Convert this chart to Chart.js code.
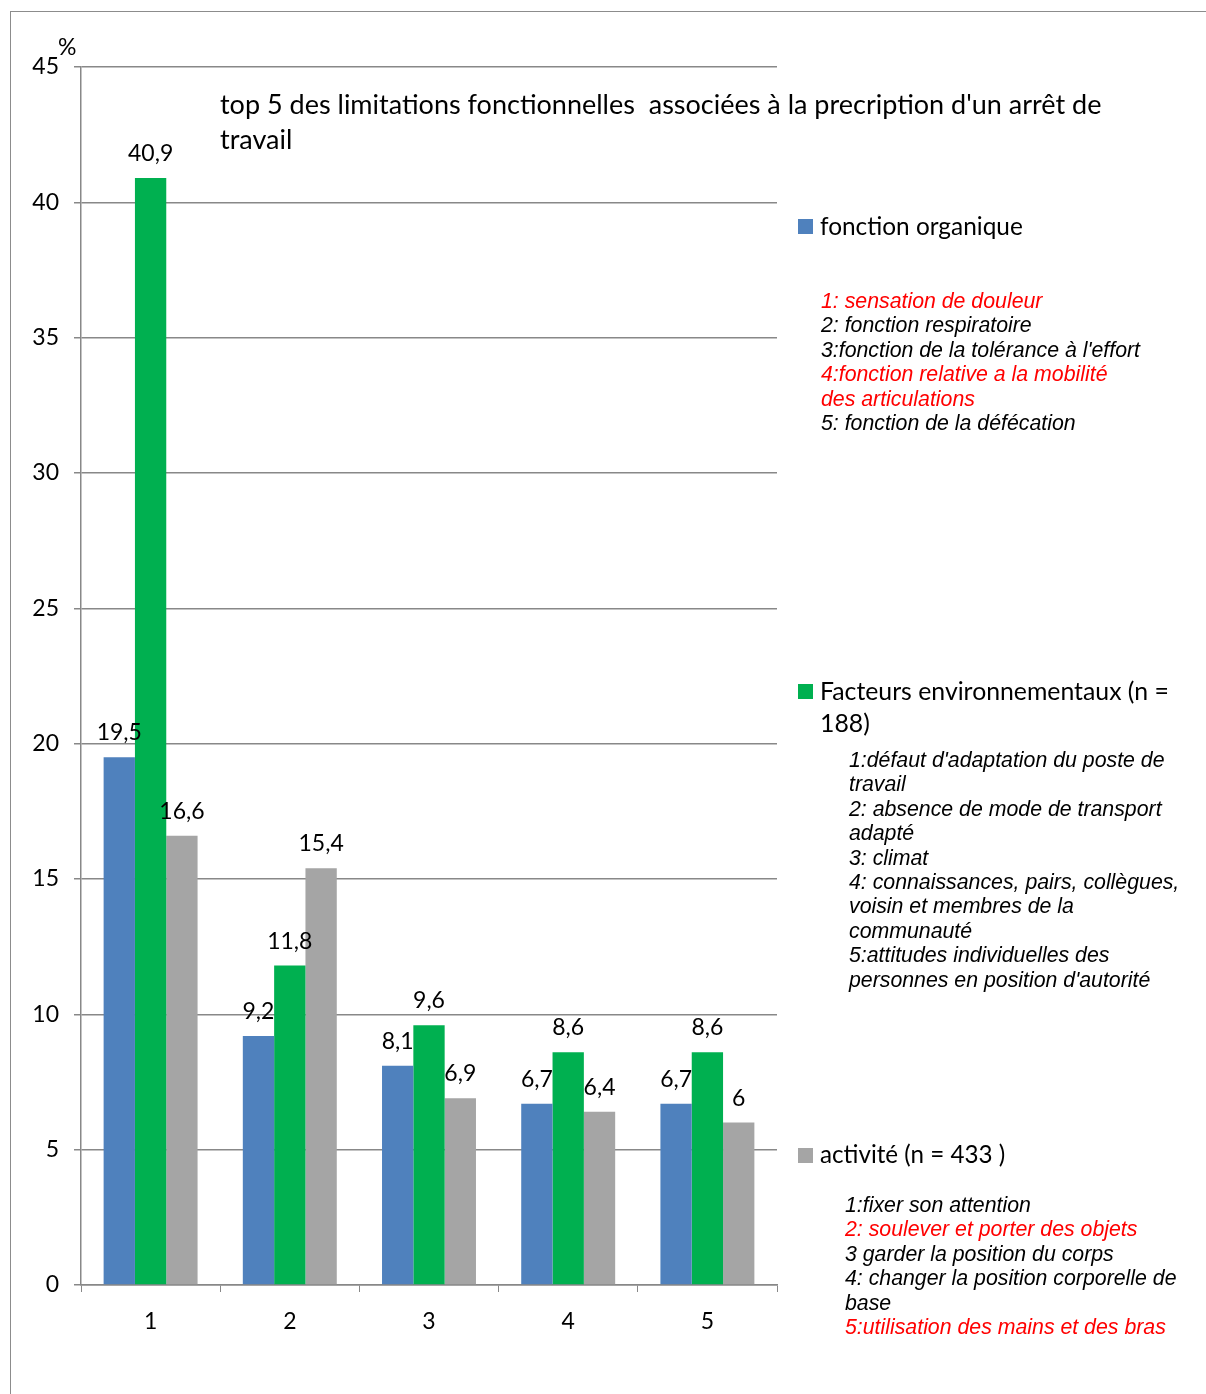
<!DOCTYPE html>
<html>
<head>
<meta charset="utf-8">
<script src="https://cdn.jsdelivr.net/npm/chart.js@4.4.0/dist/chart.umd.min.js"></script>
<style>
  body { margin: 0; background: #fff; }
  #wrap { position: relative; width: 1206px; height: 1394px; overflow: hidden; }
  #frame { position: absolute; left: 10px; top: 11px; right: -2px; bottom: -2px;
           border-top: 1.5px solid #8c8c8c; border-left: 1.5px solid #8c8c8c; }
  canvas { position: absolute; left: 0; top: 0; }
  .txt { position: absolute; white-space: nowrap; color: #000; }
  .cal { font-family: Lato, "Open Sans", sans-serif; }
  .note { font-family: "Liberation Sans", Arial, sans-serif; font-style: italic; font-size: 21.3px; line-height: 24.4px; }
  .red { color: #ff0000; }
  .sq { position: absolute; width: 15px; height: 15px; }
</style>
</head>
<body>
<div id="wrap">
  <canvas id="chart" width="1206" height="1394"></canvas>
  <div id="frame"></div>

  <div class="txt cal" style="left:58px; top:32px; font-size:23px;">%</div>
  <div class="txt cal" style="left:220px; top:86px; font-size:27px; line-height:35px;">top 5 des limitations fonctionnelles &nbsp;associées à la precription d'un arrêt de<br>travail</div>

  <div class="sq" style="left:798px; top:219px; background:#4f81bd;"></div>
  <div class="txt cal" style="left:820px; top:211px; font-size:24.4px;">fonction organique</div>
  <div class="txt note" style="left:821px; top:289px;">
    <span class="red">1: sensation de douleur</span><br>
    2: fonction respiratoire<br>
    3:fonction de la tolérance à l'effort<br>
    <span class="red">4:fonction relative a la mobilité<br>des articulations</span><br>
    5: fonction de la défécation
  </div>

  <div class="sq" style="left:798px; top:684px; background:#00b050;"></div>
  <div class="txt cal" style="left:820px; top:675px; font-size:24.8px; line-height:32px;">Facteurs environnementaux (n =<br>188)</div>
  <div class="txt note" style="left:849px; top:748px;">
    1:défaut d'adaptation du poste de<br>
    travail<br>
    2: absence de mode de transport<br>
    adapté<br>
    3: climat<br>
    4: connaissances, pairs, collègues,<br>
    voisin et membres de la<br>
    communauté<br>
    5:attitudes individuelles des<br>
    personnes en position d'autorité
  </div>

  <div class="sq" style="left:798px; top:1148px; background:#a5a5a5;"></div>
  <div class="txt cal" style="left:820px; top:1139px; font-size:24.2px;">activité (n = 433 )</div>
  <div class="txt note" style="left:845px; top:1193px;">
    1:fixer son attention<br>
    <span class="red">2: soulever et porter des objets</span><br>
    3 garder la position du corps<br>
    4: changer la position corporelle de<br>
    base<br>
    <span class="red">5:utilisation des mains et des bras</span>
  </div>
</div>

<script>
// categories and series
var categories = ["1", "2", "3", "4", "5"];
var organique = [19.5, 9.2, 8.1, 6.7, 6.7];
var environnement = [40.9, 11.8, 9.6, 8.6, 8.6];
var activite = [16.6, 15.4, 6.9, 6.4, 6];
var yTicks = [0, 5, 10, 15, 20, 25, 30, 35, 40, 45];

var gridColor = "#888888";

// value labels above bars, french decimal comma
var valueLabels = {
    id: "valueLabels",
    afterDatasetsDraw: function(chart) {
        var ctx = chart.ctx;
        ctx.save();
        ctx.font = "23px Lato";
        ctx.fillStyle = "#000";
        ctx.textAlign = "center";
        ctx.textBaseline = "alphabetic";
        chart.data.datasets.forEach(function(ds, i) {
            chart.getDatasetMeta(i).data.forEach(function(bar, j) {
                var txt = String(ds.data[j]).replace(".", ",");
                ctx.fillText(txt, bar.x, bar.y - 17);
            });
        });
        ctx.restore();
    }
};

var chartData = {
    labels: categories,
    datasets: [
        { label: "fonction organique", data: organique, backgroundColor: "#4f81bd" },
        { label: "Facteurs environnementaux (n = 188)", data: environnement, backgroundColor: "#00b050" },
        { label: "activité (n = 433 )", data: activite, backgroundColor: "#a5a5a5" }
    ]
};

var chartOptions = {
    responsive: false,
    animation: false,
    layout: { padding: { left: 1, right: 429, top: 67, bottom: 0 } },
    plugins: { legend: { display: false }, tooltip: { enabled: false } },
    datasets: { bar: { categoryPercentage: 0.675, barPercentage: 1 } },
    scales: {
        x: {
            grid: { drawOnChartArea: false, drawTicks: true, tickLength: 7, color: gridColor },
            border: { display: true, color: gridColor, width: 1.5 },
            ticks: { color: "#000", font: { family: "Lato", size: 23 }, padding: 16 },
            afterFit: function(s) { s.height = 109; }
        },
        y: {
            min: 0,
            max: 45,
            afterBuildTicks: function(s) { s.ticks = yTicks.map(function(v) { return { value: v }; }); },
            grid: { color: gridColor, lineWidth: 1.5, tickLength: 7 },
            border: { display: true, color: gridColor, width: 1.5 },
            ticks: { color: "#000", font: { family: "Lato", size: 23 }, padding: 15 },
            afterFit: function(s) { s.width = 80; }
        }
    }
};

new Chart(document.getElementById("chart"), {
    type: "bar",
    data: chartData,
    options: chartOptions,
    plugins: [valueLabels]
});
</script>
</body>
</html>
